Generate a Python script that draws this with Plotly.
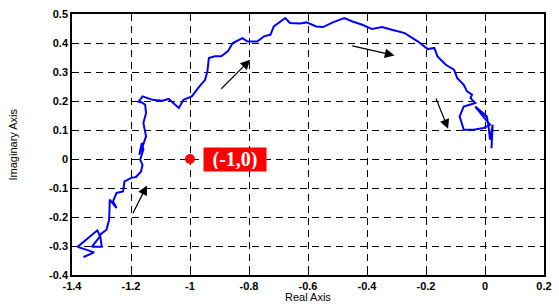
import plotly.graph_objects as go

# Nyquist curve
re_vals = [-1.361, -1.325, -1.381, -1.314, -1.305, -1.333, -1.299, -1.305, -1.283, -1.274,
           -1.272, -1.249, -1.261, -1.249, -1.227, -1.222, -1.199, -1.183, -1.166, -1.161,
           -1.169, -1.158, -1.163, -1.172, -1.161, -1.149, -1.158, -1.149, -1.152, -1.163,
           -1.174, -1.161, -1.127, -1.094, -1.072, -1.055, -1.038, -1.022, -0.994, -0.972,
           -0.949, -0.941, -0.936, -0.916, -0.894, -0.872, -0.855, -0.822, -0.805, -0.772,
           -0.749, -0.727, -0.716, -0.677, -0.661, -0.627, -0.605, -0.572, -0.549, -0.516,
           -0.477, -0.449, -0.416, -0.383, -0.349, -0.316, -0.272, -0.227, -0.194, -0.172,
           -0.161, -0.133, -0.105, -0.094, -0.072, -0.061, -0.044, -0.049, -0.033, -0.072,
           -0.086, -0.072, -0.038, -0.005, 0.017, -0.016, -0.033, 0.006, 0.012, 0.017,
           0.026, 0.022]
im_vals = [-0.338, -0.322, -0.303, -0.246, -0.267, -0.303, -0.303, -0.261, -0.244, -0.209,
           -0.140, -0.169, -0.146, -0.117, -0.112, -0.077, -0.065, -0.062, -0.043, -0.020,
           -0.002, 0.033, 0.055, 0.015, 0.043, 0.078, 0.124, 0.159, 0.187, 0.195,
           0.198, 0.216, 0.204, 0.201, 0.207, 0.193, 0.176, 0.204, 0.216, 0.245,
           0.273, 0.302, 0.348, 0.354, 0.354, 0.371, 0.400, 0.417, 0.405, 0.405,
           0.423, 0.429, 0.457, 0.486, 0.469, 0.467, 0.471, 0.457, 0.455, 0.471,
           0.486, 0.474, 0.463, 0.448, 0.455, 0.446, 0.434, 0.405, 0.379, 0.383,
           0.354, 0.325, 0.308, 0.279, 0.256, 0.233, 0.222, 0.210, 0.193, 0.181,
           0.147, 0.101, 0.101, 0.107, 0.118, 0.159, 0.181, 0.147, 0.113, 0.067,
           0.118, 0.037]

# critical point
crit_re = [-1.0]
crit_im = [0.0]
crit_label = "(-1,0)"
label_pos = (-0.848, 0.0)

# direction arrows: (tail_x, tail_y, head_x, head_y)
arrows = [(-1.196, -0.192, -1.146, -0.091),
          (-0.899, 0.237, -0.796, 0.342),
          (-0.455, 0.391, -0.307, 0.357),
          (-0.168, 0.214, -0.125, 0.104)]

x_ticks = [-1.4, -1.2, -1.0, -0.8, -0.6, -0.4, -0.2, 0.0, 0.2]
x_ticktext = ["-1.4", "-1.2", "-1", "-0.8", "-0.6", "-0.4", "-0.2", "0", "0.2"]
y_ticks = [-0.4, -0.3, -0.2, -0.1, 0.0, 0.1, 0.2, 0.3, 0.4, 0.5]
y_ticktext = ["-0.4", "-0.3", "-0.2", "-0.1", "0", "0.1", "0.2", "0.3", "0.4", "0.5"]

fig = go.Figure()
fig.add_trace(go.Scatter(x=re_vals, y=im_vals, mode="lines",
                         line=dict(color="#0000FF", width=2), showlegend=False))
fig.add_trace(go.Scatter(x=crit_re, y=crit_im, mode="markers",
                         marker=dict(color="#FF0000", size=10), showlegend=False))

annotations = []
for tx, ty, hx, hy in arrows:
    annotations.append(dict(x=hx, y=hy, ax=tx, ay=ty, xref="x", yref="y", axref="x", ayref="y",
                            showarrow=True, arrowhead=2, arrowsize=1.6, arrowwidth=1.2,
                            arrowcolor="black", text=""))
annotations.append(dict(x=label_pos[0], y=label_pos[1], xref="x", yref="y", text=crit_label,
                        showarrow=False, bgcolor="#FF0000", borderpad=2, width=58, height=19,
                        font=dict(family="Liberation Serif", size=20, color="white", weight="bold")))
annotations.append(dict(x=0.5, y=0, xref="paper", yref="paper", yshift=-22, yanchor="middle",
                        text="Real Axis", showarrow=False,
                        font=dict(family="Liberation Sans", size=11, color="black")))
annotations.append(dict(x=0, y=0.5, xref="paper", yref="paper", xshift=-60, xanchor="center",
                        text="Imaginary Axis", textangle=-90, showarrow=False,
                        font=dict(family="Liberation Sans", size=11, color="black")))

axis_common = dict(showgrid=True, gridcolor="black", gridwidth=1, griddash="7px,5px",
                   zeroline=False, showline=True, linecolor="black", linewidth=1.5,
                   mirror="ticks", ticks="inside", ticklen=4, tickcolor="black",
                   tickfont=dict(family="Liberation Sans", size=11, color="black", weight="bold"))

fig.update_layout(
    width=559, height=305,
    margin=dict(l=71.5, r=7.5, t=14.3, b=29.7),
    paper_bgcolor="white", plot_bgcolor="white",
    xaxis=dict(range=[-1.4, 0.2], tickvals=x_ticks, ticktext=x_ticktext, **axis_common),
    yaxis=dict(range=[-0.4, 0.5], tickvals=y_ticks, ticktext=y_ticktext, **axis_common),
    annotations=annotations,
)

fig.write_html("out.html", config={"displayModeBar": False},
               post_script="document.body.style.margin='0';document.body.style.overflow='hidden';")
